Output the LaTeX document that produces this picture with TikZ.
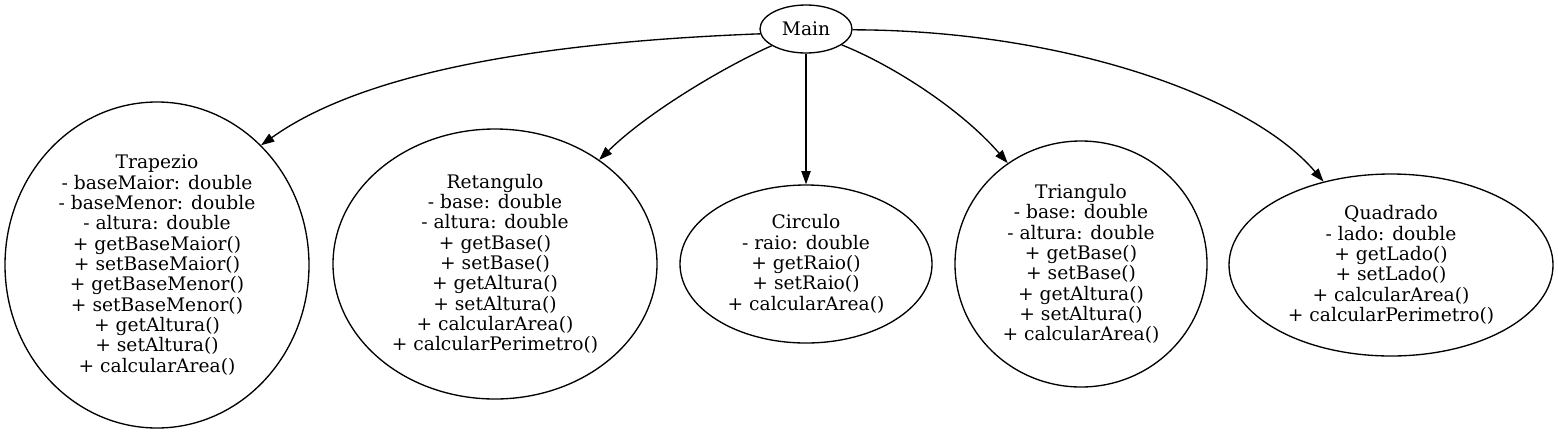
\documentclass[tikz,border=0pt]{standalone}
\usepackage{fontspec}
\setmainfont{DejaVu Serif}
\usetikzlibrary{shapes.geometric,arrows.meta}
\begin{document}
\begin{tikzpicture}[x=0.75pt,y=-0.75pt,
  cls/.style={draw,ellipse,inner sep=0pt,align=center,line width=1pt,
    font=\fontsize{14}{15.25}\selectfont},
  conn/.style={line width=1pt,-{Triangle[length=10pt,width=7pt]}}]
\useasboundingbox (0,0) rectangle (1558,433);

\node[cls,minimum width=92*0.75pt,minimum height=48*0.75pt] (main) at (806,29) {Main};

\node[cls,minimum width=304*0.75pt,minimum height=326*0.75pt] (trap) at (157,265)
 {Trapezio\\- baseMaior: double\\- baseMenor: double\\- altura: double\\+ getBaseMaior()\\+ setBaseMaior()\\+ getBaseMenor()\\+ setBaseMenor()\\+ getAltura()\\+ setAltura()\\+ calcularArea()};

\node[cls,minimum width=324*0.75pt,minimum height=270*0.75pt] (ret) at (495,264)
 {Retangulo\\- base: double\\- altura: double\\+ getBase()\\+ setBase()\\+ getAltura()\\+ setAltura()\\+ calcularArea()\\+ calcularPerimetro()};

\node[cls,minimum width=252*0.75pt,minimum height=158*0.75pt] (circ) at (806,264)
 {Circulo\\- raio: double\\+ getRaio()\\+ setRaio()\\+ calcularArea()};

\node[cls,minimum width=252*0.75pt,minimum height=246*0.75pt] (tri) at (1081,264)
 {Triangulo\\- base: double\\- altura: double\\+ getBase()\\+ setBase()\\+ getAltura()\\+ setAltura()\\+ calcularArea()};

\node[cls,minimum width=324*0.75pt,minimum height=182*0.75pt] (quad) at (1391,265)
 {Quadrado\\- lado: double\\+ getLado()\\+ setLado()\\+ calcularArea()\\+ calcularPerimetro()};

\draw[conn] (main.186) .. controls (600,40) and (380,60) .. (trap.49.6);
\draw[conn] (main.206) .. controls (730,64) and (650,110) .. (ret.45.6);
\draw[conn] (main.south) -- (circ.north);
\draw[conn] (main.336) .. controls (890,64) and (960,108) .. (tri.126.4);
\draw[conn] (main.359) .. controls (1060,30) and (1250,95) .. (quad.129.4);
\end{tikzpicture}
\end{document}
